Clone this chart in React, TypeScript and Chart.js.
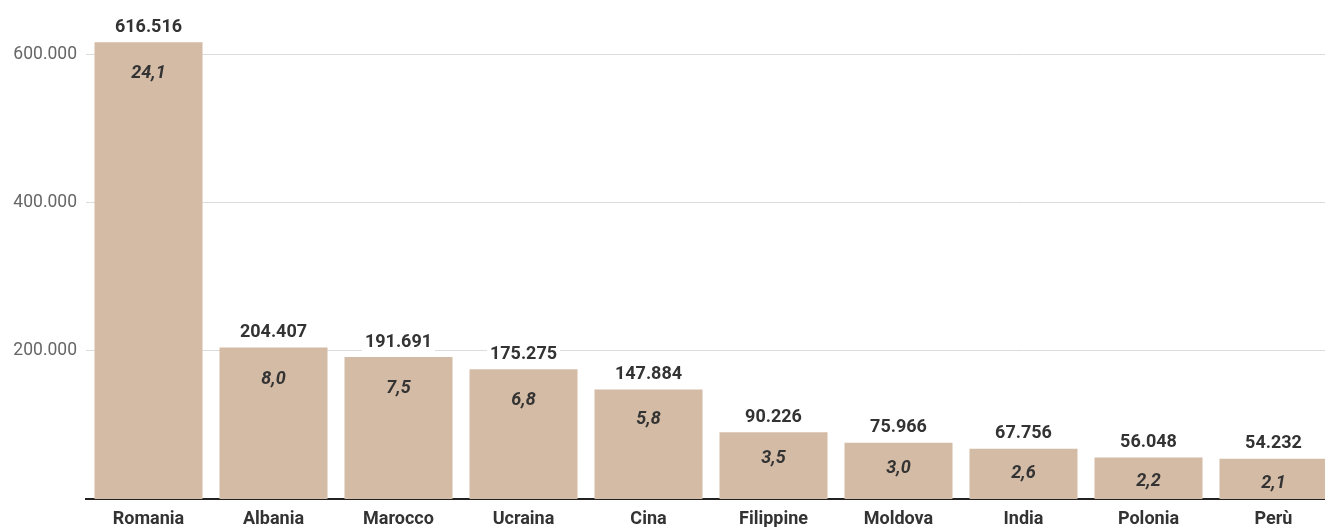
import React, { useEffect, useRef } from 'react';
import { Chart, registerables } from 'chart.js';

Chart.register(...registerables);

const categories = ['Romania', 'Albania', 'Marocco', 'Ucraina', 'Cina', 'Filippine', 'Moldova', 'India', 'Polonia', 'Perù'];
const residents = [616516, 204407, 191691, 175275, 147884, 90226, 75966, 67756, 56048, 54232];
const sharePercent = [24.1, 8.0, 7.5, 6.8, 5.8, 3.5, 3.0, 2.6, 2.2, 2.1];
const yTickValues = [200000, 400000, 600000];

const FONT = 'Roboto, "Noto Sans", sans-serif';
const BAR_COLOR = '#d4bba5';
const TEXT_DARK = '#333333';

const fmtThousands = (n: number) => String(Math.round(n)).replace(/\B(?=(\d{3})+(?!\d))/g, '.');
const fmtPct = (n: number) => n.toFixed(1).replace('.', ',');

const barLabels = {
  id: 'barLabels',
  afterDatasetsDraw(chart: any) {
    const ctx = chart.ctx;
    const meta = chart.getDatasetMeta(0);
    const base = chart.scales.y.getPixelForValue(0);
    meta.data.forEach((bar: any, i: number) => {
      const { x, y } = bar.getProps(['x', 'y'], true);
      const h = base - y;
      ctx.save();
      ctx.textAlign = 'center';
      ctx.textBaseline = 'middle';
      // value above bar with white background
      ctx.font = `bold 18px ${FONT}`;
      const txt = fmtThousands(residents[i]);
      const w = ctx.measureText(txt).width;
      const ly = y - 15;
      ctx.fillStyle = '#ffffff';
      ctx.fillRect(x - w / 2 - 3, ly - 11, w + 6, 20);
      ctx.fillStyle = TEXT_DARK;
      ctx.fillText(txt, x, ly);
      // share inside bar
      ctx.font = `italic bold 18px ${FONT}`;
      const off = Math.min(21 + 0.08 * h, 31.5);
      ctx.fillText(fmtPct(sharePercent[i]), x, y + off);
      ctx.restore();
    });
  },
};

export default function App() {
  const ref = useRef<HTMLCanvasElement | null>(null);

  useEffect(() => {
    if (!ref.current) return;
    const chart = new Chart(ref.current, {
      type: 'bar',
      data: {
        labels: categories,
        datasets: [
          {
            data: residents,
            backgroundColor: BAR_COLOR,
            borderWidth: 0,
            categoryPercentage: 1,
            barPercentage: 0.864,
          },
        ],
      },
      options: {
        responsive: false,
        animation: false,
        layout: { padding: 0 },
        plugins: {
          legend: { display: false },
          tooltip: { enabled: false },
        },
        scales: {
          x: {
            z: 1,
            grid: { display: false, drawTicks: false },
            border: { display: true, color: '#222222', width: 2 },
            ticks: {
              color: TEXT_DARK,
              font: { family: FONT, size: 18, weight: 'bold' },
              padding: 10,
              maxRotation: 0,
              autoSkip: false,
            },
            afterFit(scale: any) {
              scale.height = 28;
            },
          },
          y: {
            min: 0,
            max: 647400,
            grid: { color: '#dcdcdc', lineWidth: 1, drawTicks: false },
            border: { display: false },
            ticks: {
              color: '#666666',
              font: { family: FONT, size: 17.5 },
              padding: 9,
              callback: (v: any) => fmtThousands(Number(v)),
            },
            afterBuildTicks(scale: any) {
              scale.ticks = yTickValues.map((v) => ({ value: v }));
            },
            afterFit(scale: any) {
              scale.width = 86;
            },
          },
        },
      },
      plugins: [barLabels],
    });
    return () => chart.destroy();
  }, []);

  return (
    <div style={{ position: 'fixed', left: 0, top: 0, width: 1325, height: 527, overflow: 'hidden', background: '#fff' }}>
      <canvas ref={ref} width={1336} height={527} style={{ width: 1336, height: 527, display: 'block' }} />
    </div>
  );
}
